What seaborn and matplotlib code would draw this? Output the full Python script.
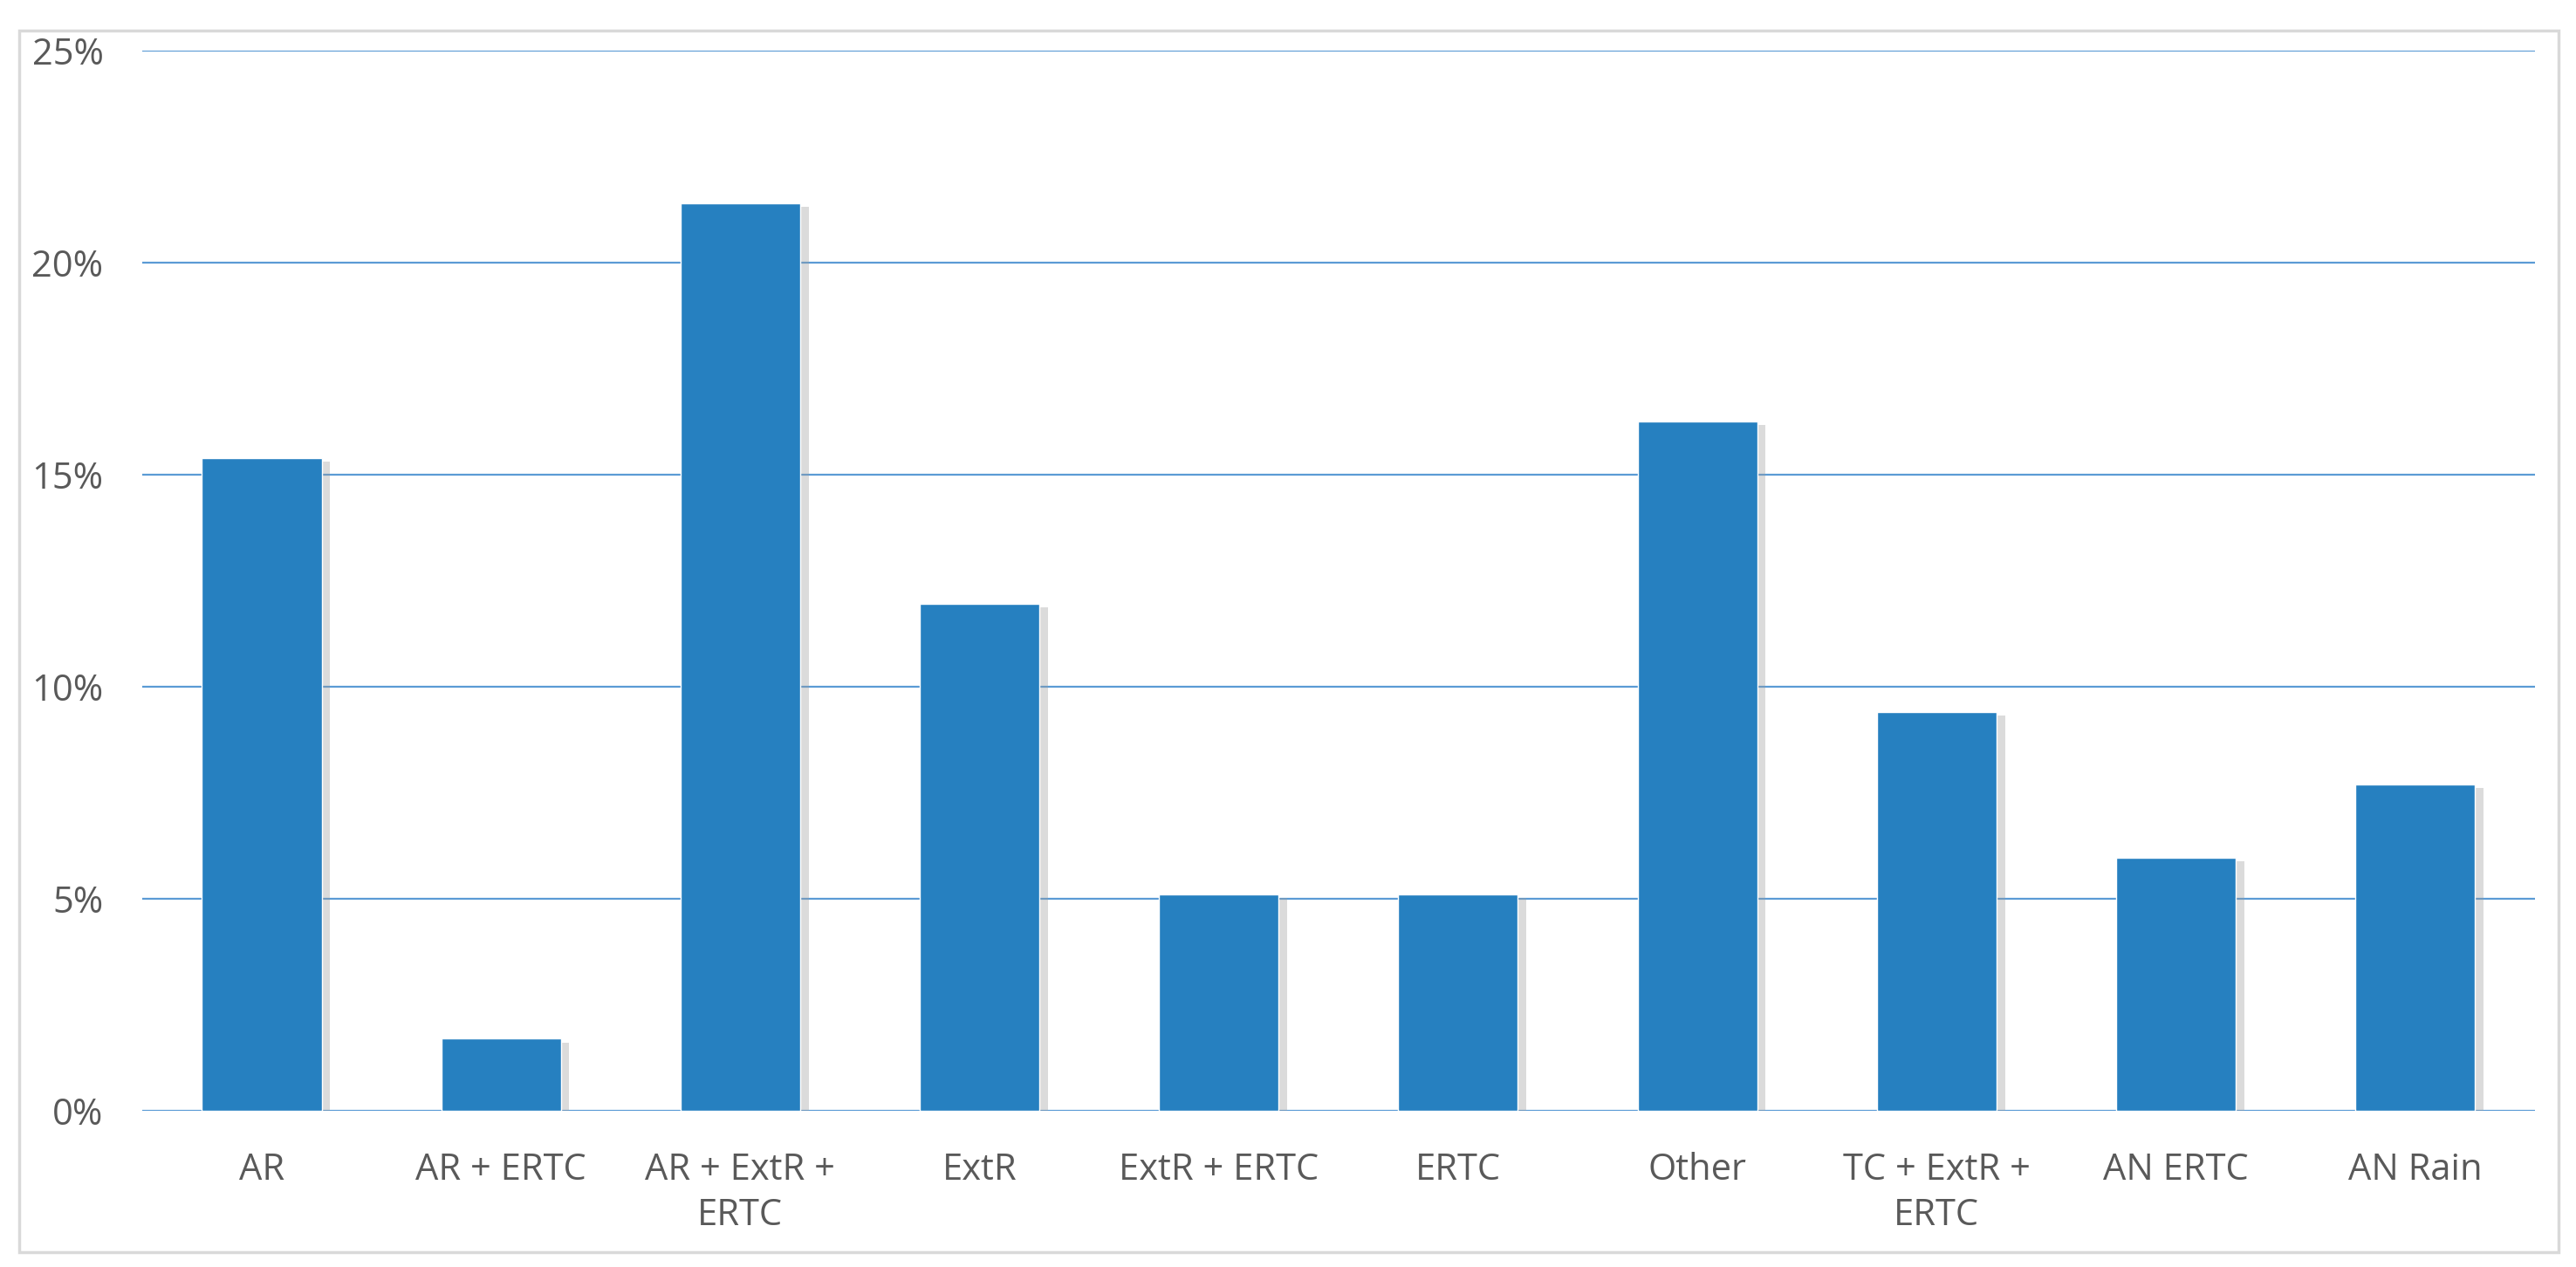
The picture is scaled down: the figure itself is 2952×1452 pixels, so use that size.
import matplotlib
matplotlib.use("Agg")
import matplotlib.pyplot as plt
import matplotlib.patheffects as pe
from matplotlib.patches import Rectangle
from matplotlib.ticker import FuncFormatter
import pandas as pd
import seaborn as sns

categories = ["AR", "AR + ERTC", "AR + ExtR +\nERTC", "ExtR", "ExtR + ERTC",
              "ERTC", "Other", "TC + ExtR +\nERTC", "AN ERTC", "AN Rain"]
shares = [15.4, 1.7, 21.4, 11.95, 5.1, 5.1, 16.25, 9.4, 5.97, 7.7]
yticks = [0, 5, 10, 15, 20, 25]

df = pd.DataFrame({"category": categories, "share": shares})

sns.set_theme(style="white")
plt.rcParams["font.family"] = ["Open Sans", "DejaVu Sans"]

fig = plt.figure(figsize=(29.52, 14.52), dpi=100)
ax = fig.add_axes([0.0552, 0.1233, 0.9288, 0.8367])

sns.barplot(x="category", y="share", data=df, color="#2680c0", width=0.5,
            saturation=1, ax=ax, zorder=3)

for bar in ax.patches:
    bar.set_path_effects([
        pe.SimplePatchShadow(offset=(7, -3), shadow_rgbFace="#9a9a9a", alpha=0.35),
        pe.Normal(),
    ])

ax.set_ylim(0, 25)
ax.set_xlim(-0.5, len(categories) - 0.5)
ax.set_yticks(yticks)
ax.yaxis.set_major_formatter(FuncFormatter(lambda v, p: f"{v:.0f}%"))
ax.yaxis.grid(True, color="#5b9bd5", linewidth=1.6, zorder=0)
ax.set_axisbelow(True)
for s in ax.spines.values():
    s.set_visible(False)

ax.tick_params(axis="y", length=0, pad=32, labelsize=30, labelcolor="#595959")
ax.tick_params(axis="x", length=0, pad=34, labelsize=30, labelcolor="#595959")
for lbl in ax.get_xticklabels():
    lbl.set_linespacing(1.3)
ax.set_xlabel("")
ax.set_ylabel("")

fig.patches.append(Rectangle((22 / 2952, 17 / 1452), 2910 / 2952, 1400 / 1452,
                             transform=fig.transFigure, fill=False,
                             edgecolor="#d9d9d9", linewidth=2.5))

fig.savefig("out.png", dpi=100, facecolor="white")
